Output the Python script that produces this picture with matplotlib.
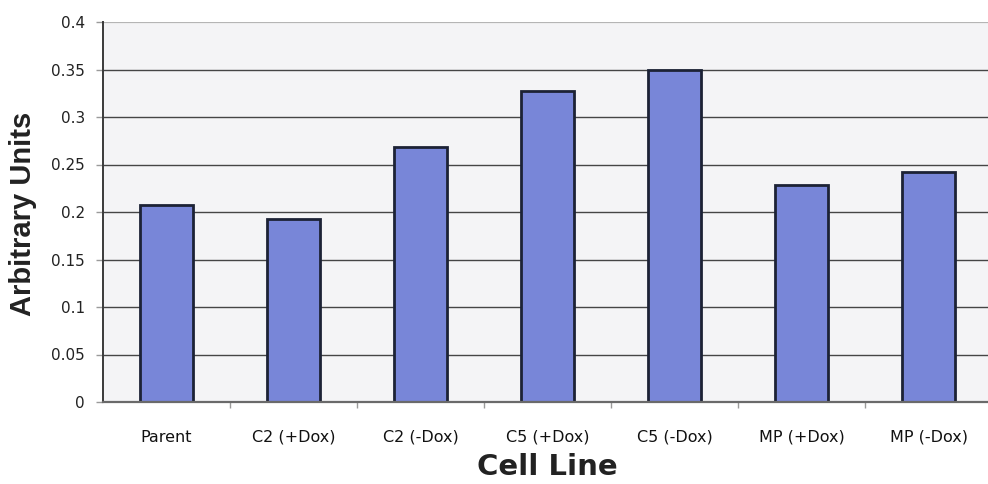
import matplotlib
matplotlib.use("Agg")
import matplotlib.pyplot as plt
from matplotlib.ticker import FixedLocator
import numpy as np

categories = ["Parent", "C2 (+Dox)", "C2 (-Dox)", "C5 (+Dox)", "C5 (-Dox)", "MP (+Dox)", "MP (-Dox)"]
values = [0.207, 0.193, 0.268, 0.327, 0.349, 0.228, 0.242]
y_ticks = [0, 0.05, 0.1, 0.15, 0.2, 0.25, 0.3, 0.35, 0.4]
y_tick_labels = ["0", "0.05", "0.1", "0.15", "0.2", "0.25", "0.3", "0.35", "0.4"]

fig = plt.figure(figsize=(9.88, 4.84), dpi=100)
fig.patch.set_facecolor("white")
ax = fig.add_axes([103 / 988, 82 / 484, 889 / 988, 380 / 484])
ax.set_facecolor("#f4f4f6")

x = np.arange(len(categories))
ax.set_xlim(-0.5, len(categories) - 0.5)
ax.set_ylim(0, 0.4)

# horizontal gridlines at each major step, lighter at the top
for t in y_ticks[1:-1]:
    ax.axhline(t, color="#454545", linewidth=1.0, zorder=1)
ax.axhline(0.4, color="#b5b5b5", linewidth=1.6, zorder=1)

ax.bar(x, values, width=0.41, color="#7886d8", edgecolor="#1c2235",
       linewidth=2.0, zorder=3)

# axes and ticks
for s in ["top", "right"]:
    ax.spines[s].set_visible(False)
ax.spines["left"].set_color("#3a3a3a")
ax.spines["left"].set_linewidth(1.4)
ax.spines["bottom"].set_color("#6a6a6a")
ax.spines["bottom"].set_linewidth(1.6)
ax.spines["left"].set_zorder(4)
ax.spines["bottom"].set_zorder(4)

ax.set_yticks(y_ticks)
ax.set_yticklabels(y_tick_labels, family="DejaVu Sans", fontsize=11, color="#222222")
ax.tick_params(axis="y", length=5, width=1, color="#9a9a9a", pad=8)

ax.set_xticks(x)
ax.set_xticklabels(categories, family="DejaVu Sans", fontsize=11.5, color="#111111")
ax.tick_params(axis="x", which="major", length=0, pad=20)
ax.xaxis.set_minor_locator(FixedLocator(x[:-1] + 0.5))
ax.tick_params(axis="x", which="minor", length=4, width=1, color="#9a9a9a")

fig.text(23 / 988, 1 - 214 / 484, "Arbitrary Units", rotation=90,
         ha="center", va="center", family="Liberation Sans",
         fontweight="bold", fontsize=21, color="#222222")
fig.text(547 / 988, 1 - 467 / 484, "Cell Line", ha="center", va="center",
         family="DejaVu Sans", fontweight="bold", fontsize=21, color="#222222")

fig.savefig("out.png", dpi=100, facecolor="white")
